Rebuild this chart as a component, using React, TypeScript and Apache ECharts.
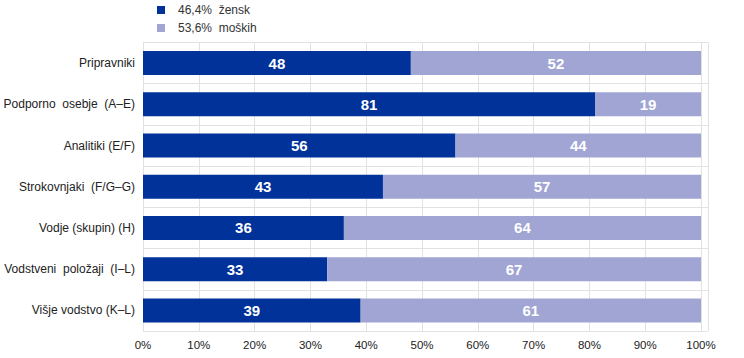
import React, { useEffect, useRef } from "react";
import * as echarts from "echarts";

const categories = [
  "Pripravniki",
  "Podporno  osebje  (A–E)",
  "Analitiki (E/F)",
  "Strokovnjaki  (F/G–G)",
  "Vodje (skupin) (H)",
  "Vodstveni  položaji  (I–L)",
  "Višje vodstvo (K–L)",
];
const women = [48, 81, 56, 43, 36, 33, 39];
const men = [52, 19, 44, 57, 64, 67, 61];
const seriesNames = ["46,4%  žensk", "53,6%  moških"];

export default function App() {
  const ref = useRef<HTMLDivElement>(null);
  useEffect(() => {
    if (!ref.current) return;
    const chart = echarts.init(ref.current, null, { renderer: "svg" });
    const font = "'Liberation Sans', Arial, sans-serif";
    const barLabel = {
      show: true,
      position: "inside",
      color: "#ffffff",
      fontWeight: "bold",
      fontSize: 15,
      fontFamily: font,
    };
    chart.setOption({
      animation: false,
      legend: {
        orient: "vertical",
        left: 157,
        top: 4,
        padding: 0,
        itemWidth: 8,
        itemHeight: 8,
        itemGap: 6,
        icon: "rect",
        textStyle: { fontSize: 12, color: "#333", fontFamily: font, padding: [0, 0, 0, 8] },
        data: seriesNames,
      },
      grid: { left: 143, right: 36, top: 42.5, bottom: 27, containLabel: false },
      xAxis: {
        type: "value",
        min: 0,
        max: 101.25,
        interval: 10,
        axisLine: { show: false },
        axisTick: { show: false },
        splitLine: { show: true, lineStyle: { color: "#e2e2e2", width: 1 } },
        axisLabel: {
          fontSize: 11.5,
          color: "#222",
          fontFamily: font,
          margin: 8,
          formatter: (v: number) => (v > 100 ? "" : v + "%"),
        },
      },
      yAxis: {
        type: "category",
        inverse: true,
        data: categories,
        axisLine: { show: true, lineStyle: { color: "#e2e2e2" } },
        axisTick: { show: false },
        splitLine: { show: true, lineStyle: { color: "#e2e2e2", width: 1 } },
        axisLabel: { fontSize: 12, color: "#222", fontFamily: font, margin: 8 },
      },
      series: [
        {
          name: seriesNames[0],
          type: "bar",
          stack: "a",
          data: women,
          barWidth: 24,
          itemStyle: { color: "#003299" },
          label: barLabel,
        },
        {
          name: seriesNames[1],
          type: "bar",
          stack: "a",
          data: men,
          barWidth: 24,
          itemStyle: { color: "#a0a5d4" },
          label: barLabel,
        },
      ],
    });
    return () => chart.dispose();
  }, []);
  return (
    <div
      ref={ref}
      style={{ position: "absolute", left: 0, top: 0, width: 744, height: 358 }}
    />
  );
}
